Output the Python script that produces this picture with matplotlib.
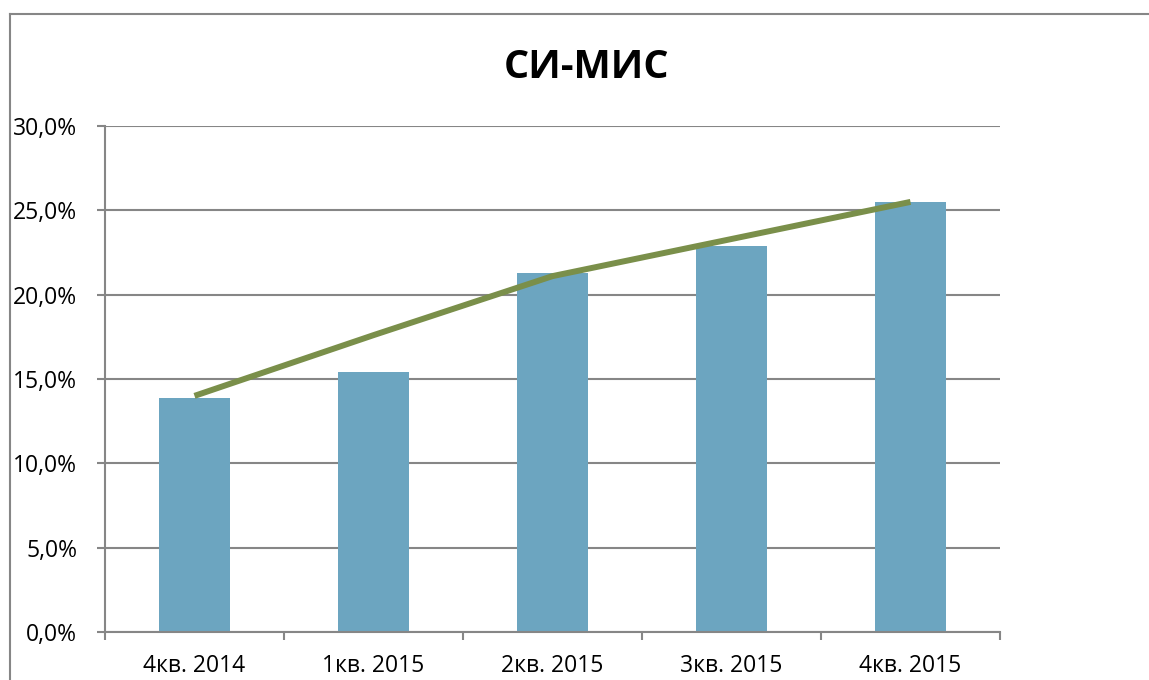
import matplotlib
matplotlib.use('Agg')
import matplotlib.pyplot as plt
from matplotlib.lines import Line2D
from matplotlib.ticker import MultipleLocator, FuncFormatter

#%% data
quarters = ['4кв. 2014', '1кв. 2015', '2кв. 2015', '3кв. 2015', '4кв. 2015']
share = [13.9, 15.4, 21.3, 22.9, 25.5]
trend = [14.0, 17.6, 21.1, 23.3, 25.5]

#%% figure
plt.rcParams['font.family'] = ['Open Sans', 'DejaVu Sans']
W, H = 1149, 680
fig = plt.figure(figsize=(W / 100, H / 100), dpi=100)
ax = fig.add_axes([105 / W, (H - 632) / H, (1000 - 105) / W, (632 - 126) / H])

grid_c = '#868686'
x = range(len(quarters))
ax.bar(x, share, width=0.4, color='#6ca5c0', zorder=2)
ax.plot(x, trend, color='#7a8f4a', lw=4.3, solid_capstyle='butt', zorder=3)

ax.set_xlim(-0.5, len(quarters) - 0.5)
ax.set_ylim(0, 30)
ax.yaxis.set_major_locator(MultipleLocator(5))
ax.yaxis.set_major_formatter(FuncFormatter(lambda v, p: f'{v:.1f}%'.replace('.', ',')))
ax.grid(axis='y', color=grid_c, lw=1.5, zorder=1)
ax.set_axisbelow(True)

for s in ['top', 'right']:
    ax.spines[s].set_visible(False)
for s in ['left', 'bottom']:
    ax.spines[s].set_color(grid_c)
    ax.spines[s].set_linewidth(1.5)

# category ticks sit on the boundaries, labels in the middle
ax.set_xticks([i - 0.5 for i in range(len(quarters) + 1)], minor=False)
ax.set_xticklabels([])
ax.set_xticks(list(x), minor=True)
ax.set_xticklabels(quarters, minor=True)
ax.tick_params(axis='x', which='major', length=6, width=1.5, color=grid_c)
ax.tick_params(axis='x', which='minor', length=0, labelsize=16.5, pad=16)
ax.tick_params(axis='y', length=6, width=1.5, color=grid_c, labelsize=16.5, pad=14)

fig.text(587 / W, 1 - 68 / H, 'СИ-МИС', ha='center', va='center',
         fontsize=28.5, fontweight='bold')

# outer chart frame (cropped at right and bottom)
fig.add_artist(Line2D([10 / W, 10 / W], [0, 1 - 14 / H], transform=fig.transFigure,
                      color=grid_c, lw=1.5))
fig.add_artist(Line2D([10 / W, 1], [1 - 14 / H, 1 - 14 / H], transform=fig.transFigure,
                      color=grid_c, lw=1.5))

fig.savefig('out.png', dpi=100)
